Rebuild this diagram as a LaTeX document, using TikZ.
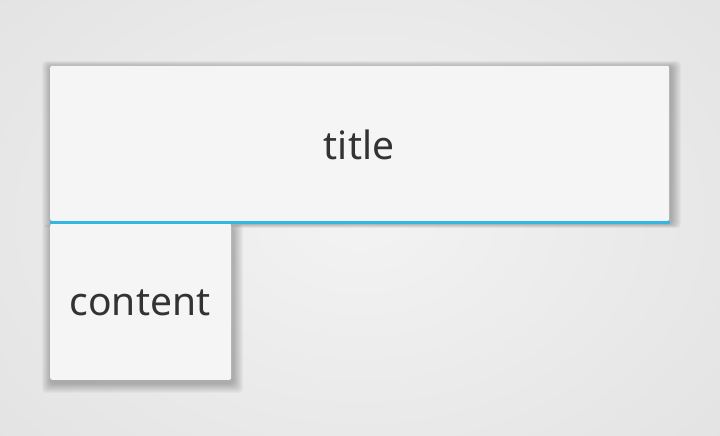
\documentclass[tikz,border=0pt]{standalone}
\usepackage{fontspec}
\setmainfont{Noto Sans}
\definecolor{bgin}{HTML}{F3F3F3}
\definecolor{bgout}{HTML}{E2E2E2}
\definecolor{boxfill}{HTML}{F5F5F5}
\definecolor{holoblue}{HTML}{33B5E5}
\definecolor{txt}{HTML}{333333}
\tikzset{
  panel/.style={fill=boxfill, rounded corners=2pt, draw=none},
  label/.style={text=txt, font=\fontsize{39}{46}\selectfont, inner sep=0pt, anchor=center},
}
\begin{document}
\begin{tikzpicture}[x=1pt,y=1pt]
\useasboundingbox (0,0) rectangle (720,436);
\shade[inner color=bgin, outer color=bgout] (-150,-150) rectangle (870,586);
% shadows
\foreach \i in {1,...,10}{
  \fill[black, opacity=0.028, rounded corners=4pt] (50+1-\i*0.9, 56-3-\i*1.0) rectangle (231+2+\i*1.0, 212-4+\i*0.4);
  \fill[black, opacity=0.028, rounded corners=4pt] (50+1-\i*0.9, 215-3-\i*0.4) rectangle (669+2+\i*1.0, 370-1+\i*0.6);
}
\node[panel, minimum width=181pt, minimum height=156pt, anchor=south west, inner sep=0pt] (content) at (50,56) {};
\node[panel, minimum width=619pt, minimum height=155pt, anchor=south west, inner sep=0pt] (title) at (50,215) {};
\coordinate (bl) at (50,213.5);
\coordinate (br) at (670,213.5);
\draw[holoblue, line width=3pt] (bl) -- (br);
\node[label] (tt) at (359,291) {title};
\node[label] (ct) at (140,133) {content};
\end{tikzpicture}
\end{document}
